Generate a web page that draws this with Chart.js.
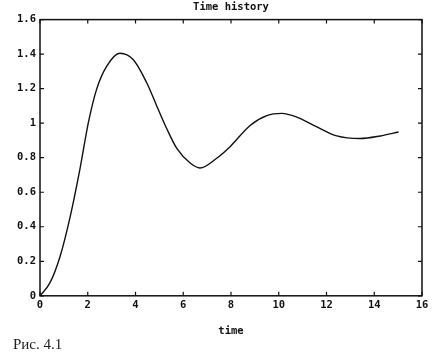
<!DOCTYPE html>
<html>
<head>
<meta charset="utf-8">
<script src="https://cdn.jsdelivr.net/npm/chart.js@4.4.0/dist/chart.umd.min.js"></script>
<style>
  body { margin: 0; background: #fff; }
  #wrap { position: relative; width: 437px; height: 355px; }
  #caption { position: absolute; left: 13px; top: 336px; font: 15px "Liberation Serif", serif; color: #222; }
</style>
</head>
<body>
<div id="wrap">
  <canvas id="timeChart"></canvas>
  <div id="caption">Рис. 4.1</div>
</div>
<script>
// values
const timeValues = [0, 0.42, 0.84, 1.26, 1.68, 2.03, 2.37, 2.79, 3.35, 3.91, 4.47, 4.89, 5.31, 5.73, 6.29, 6.7, 7.4, 7.96, 8.8, 9.5, 10.13, 10.76, 11.6, 12.43, 13.41, 14.25, 15.02];
const responseValues = [0, 0.076, 0.228, 0.456, 0.74, 1.006, 1.196, 1.329, 1.405, 1.367, 1.234, 1.10, 0.968, 0.854, 0.769, 0.74, 0.797, 0.864, 0.987, 1.044, 1.057, 1.035, 0.978, 0.926, 0.911, 0.926, 0.949];
const xTicks = [0, 2, 4, 6, 8, 10, 12, 14, 16];
const yTicks = [0, 0.2, 0.4, 0.6, 0.8, 1, 1.2, 1.4, 1.6];

const monoFont = { family: '"DejaVu Sans Mono", monospace', size: 10.5, weight: 'bold' };

// box around the plot with little inward ticks on all four sides
const framePlugin = {
    id: 'frame',
    afterDraw(chart) {
        const { ctx, chartArea: a, scales } = chart;
        ctx.save();
        ctx.strokeStyle = '#111';
        ctx.lineWidth = 1.5;
        ctx.strokeRect(a.left, a.top, a.right - a.left, a.bottom - a.top);
        ctx.lineWidth = 1.2;
        ctx.beginPath();
        xTicks.forEach(v => {
            const px = scales.x.getPixelForValue(v);
            ctx.moveTo(px, a.bottom); ctx.lineTo(px, a.bottom - 4);
            ctx.moveTo(px, a.top); ctx.lineTo(px, a.top + 4);
        });
        yTicks.forEach(v => {
            const py = scales.y.getPixelForValue(v);
            ctx.moveTo(a.left, py); ctx.lineTo(a.left + 4, py);
            ctx.moveTo(a.right, py); ctx.lineTo(a.right - 4, py);
        });
        ctx.stroke();
        ctx.restore();
    }
};

new Chart(document.getElementById('timeChart'), {
    type: 'scatter',
    data: {
        datasets: [{
            data: timeValues.map((t, i) => ({ x: t, y: responseValues[i] })),
            showLine: true,
            borderColor: '#111',
            borderWidth: 1.4,
            pointRadius: 0,
            cubicInterpolationMode: 'monotone',
            fill: false
        }]
    },
    options: {
        responsive: true,
        maintainAspectRatio: false,
        animation: false,
        layout: { padding: { left: 0, right: 15, top: 0, bottom: 17 } },
        plugins: {
            legend: { display: false },
            tooltip: { enabled: false },
            title: {
                display: true,
                text: 'Time history',
                fullSize: false,
                color: '#111',
                font: monoFont,
                padding: { top: 1, bottom: 6 }
            }
        },
        scales: {
            x: {
                type: 'linear',
                min: 0,
                max: 16,
                afterBuildTicks: s => { s.ticks = xTicks.map(v => ({ value: v })); },
                ticks: { color: '#111', font: monoFont, padding: 3, maxRotation: 0, callback: v => String(v) },
                grid: { display: false, drawTicks: false },
                border: { display: false },
                title: { display: true, text: 'time', color: '#111', font: monoFont, padding: { top: 11, bottom: 0 } }
            },
            y: {
                min: 0,
                max: 1.6,
                afterBuildTicks: s => { s.ticks = yTicks.map(v => ({ value: v })); },
                afterFit: s => { s.width = 40; },
                ticks: { color: '#111', font: monoFont, padding: 4, callback: v => String(v) },
                grid: { display: false, drawTicks: false },
                border: { display: false }
            }
        }
    },
    plugins: [framePlugin]
});
</script>
</body>
</html>
